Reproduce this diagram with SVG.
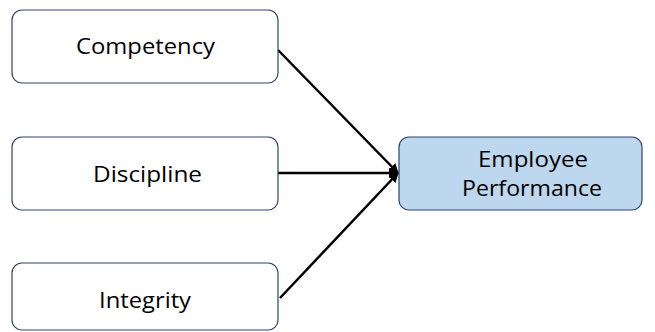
<svg xmlns="http://www.w3.org/2000/svg" width="655" height="332" viewBox="0 0 655 332">
<style>
.box{fill:#ffffff;stroke:#2f4468;stroke-width:1.2}
.target{fill:#bdd7ee;stroke:#2f4468;stroke-width:1.2}
.lbl{font-family:"Open Sans","Liberation Sans",sans-serif;font-size:22px;fill:#000;text-anchor:middle}
.conn{stroke:#000;stroke-width:2.5;fill:none}
</style>
<defs>
<marker id="arr" viewBox="0 0 10 10" refX="9" refY="5" markerWidth="4" markerHeight="4" orient="auto" markerUnits="strokeWidth">
<path d="M0,0 L10,5 L0,10 z" fill="#000"/>
</marker>
</defs>
<rect width="655" height="332" fill="#ffffff"/>
<g id="connectors">
<line class="conn" x1="278" y1="50" x2="398" y2="173" marker-end="url(#arr)"/>
<line class="conn" x1="278" y1="173" x2="398" y2="173" marker-end="url(#arr)"/>
<line class="conn" x1="280" y1="298" x2="398" y2="173" marker-end="url(#arr)"/>
</g>
<g id="competency">
<rect class="box" x="12" y="10" width="266" height="73" rx="10"/>
<text class="lbl" x="145.5" y="54" textLength="139" lengthAdjust="spacingAndGlyphs">Competency</text>
</g>
<g id="discipline">
<rect class="box" x="12" y="137" width="266" height="73" rx="10"/>
<text class="lbl" x="147.5" y="182" textLength="109" lengthAdjust="spacingAndGlyphs">Discipline</text>
</g>
<g id="integrity">
<rect class="box" x="12" y="263" width="266" height="67" rx="10"/>
<text class="lbl" x="145" y="308" textLength="92" lengthAdjust="spacingAndGlyphs">Integrity</text>
</g>
<g id="employee-performance">
<rect class="target" x="399" y="137" width="243" height="73" rx="10"/>
<text class="lbl" x="533" y="167" textLength="110" lengthAdjust="spacingAndGlyphs">Employee</text>
<text class="lbl" x="532" y="196" textLength="140" lengthAdjust="spacingAndGlyphs">Performance</text>
</g>
</svg>
